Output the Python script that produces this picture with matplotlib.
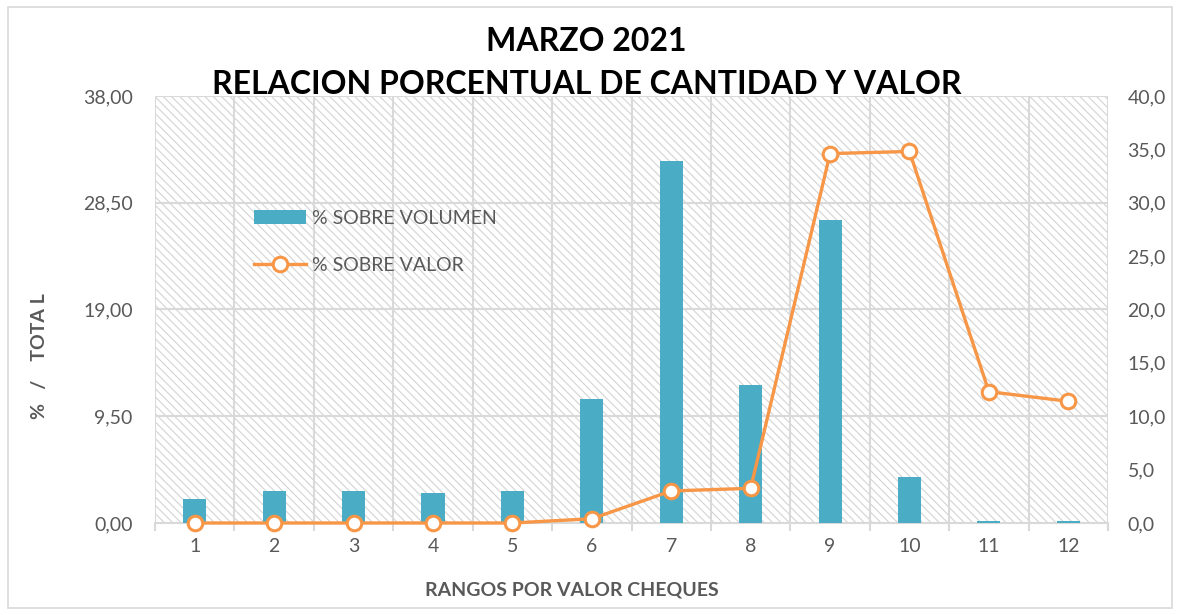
import matplotlib
matplotlib.use('Agg')
import matplotlib.pyplot as plt
from matplotlib.patches import Rectangle
from matplotlib.lines import Line2D
from matplotlib.patches import Patch

# Data
categories = ['1', '2', '3', '4', '5', '6', '7', '8', '9', '10', '11', '12']
pct_volumen = [2.1, 2.85, 2.85, 2.7, 2.85, 11.0, 32.2, 12.25, 27.0, 4.05, 0.15, 0.15]
pct_valor = [0.0, 0.0, 0.0, 0.0, 0.0, 0.4, 3.0, 3.25, 34.6, 34.8, 12.3, 11.4]
left_ticks = [0, 9.5, 19, 28.5, 38]
right_ticks = [0, 5, 10, 15, 20, 25, 30, 35, 40]

bar_color = '#4bacc6'
line_color = '#f79646'
text_color = '#595959'
grid_color = '#d9d9d9'

plt.rcParams['font.family'] = ['Lato', 'DejaVu Sans']

fig = plt.figure(figsize=(11.8, 6.15), dpi=100)
ax = fig.add_axes([0.1314, 0.1496, 0.939 - 0.1314, 0.844 - 0.1496])
ax2 = ax.twinx()

x = list(range(len(categories)))

# hatched background
plt.rcParams['hatch.linewidth'] = 0.8
ax.add_patch(Rectangle((0, 0), 1, 1, transform=ax.transAxes, facecolor='white',
                       edgecolor='#d4d4d4', hatch='\\\\\\\\', lw=0, zorder=0))

ax.bar(x, pct_volumen, width=0.29, color=bar_color, zorder=3)
ax2.plot(x, pct_valor, color=line_color, lw=2.4, marker='o', markersize=10.5,
         markerfacecolor='white', markeredgecolor=line_color, markeredgewidth=2.2,
         zorder=4, clip_on=False)

ax.set_xlim(-0.5, len(categories) - 0.5)
ax.set_ylim(0, 38)
ax2.set_ylim(0, 40)

ax.set_yticks(left_ticks)
ax.set_yticklabels(['{:.2f}'.format(v).replace('.', ',') for v in left_ticks])
ax2.set_yticks(right_ticks)
ax2.set_yticklabels(['{:.1f}'.format(v).replace('.', ',') for v in right_ticks])

ax.set_xticks(x)
ax.set_xticklabels(categories)
ax.set_xticks([i - 0.5 for i in range(len(categories) + 1)], minor=True)

# grid
for yv in left_ticks[1:]:
    ax.axhline(yv, color=grid_color, lw=1.5, zorder=1)
for xv in [i - 0.5 for i in range(len(categories) + 1)]:
    ax.axvline(xv, color=grid_color, lw=1.5, zorder=1)

for a in (ax, ax2):
    for s in a.spines.values():
        s.set_visible(False)
ax.spines['bottom'].set_visible(True)
ax.spines['bottom'].set_color(grid_color)
ax.spines['bottom'].set_linewidth(1.5)
ax.spines['bottom'].set_zorder(2)

ax.tick_params(axis='x', which='major', length=0, pad=11, labelsize=14, labelcolor=text_color)
ax.tick_params(axis='x', which='minor', length=6, width=1.5, color=grid_color)
ax.tick_params(axis='y', length=0, pad=16, labelsize=14, labelcolor=text_color)
ax2.tick_params(axis='y', length=0, pad=14, labelsize=14, labelcolor=text_color)

ax.set_xlabel('RANGOS POR VALOR CHEQUES', fontsize=14, fontweight='bold', color=text_color)
ax.xaxis.set_label_coords(0.4376, -0.136)
ax.set_ylabel('%   /    TOTA L', fontsize=14, fontweight='bold', color=text_color)
ax.yaxis.set_label_coords(-0.112, 0.39)

fig.text(0.497, 0.933, 'MARZO 2021', ha='center', va='center', fontsize=23,
         fontweight='bold', color='black')
fig.text(0.497, 0.862, 'RELACION PORCENTUAL DE CANTIDAD Y VALOR', ha='center',
         va='center', fontsize=23, fontweight='bold', color='black')

handles = [Patch(facecolor=bar_color, edgecolor='none'),
           Line2D([0], [0], color=line_color, lw=2.4, marker='o', markersize=10.5,
                  markerfacecolor='white', markeredgecolor=line_color,
                  markeredgewidth=2.2)]
ax.legend(handles, ['% SOBRE VOLUMEN', '% SOBRE VALOR'], loc='upper left',
          bbox_to_anchor=(0.085, 0.775), frameon=False, fontsize=14,
          labelcolor=text_color, handlelength=2.7, handletextpad=0.3,
          labelspacing=1.55)

fig.patches.append(Rectangle((0.007, 0.012), 0.986, 0.976, transform=fig.transFigure,
                             fill=False, edgecolor='#d9d9d9', lw=1.2))

fig.savefig('out.png', dpi=100)
